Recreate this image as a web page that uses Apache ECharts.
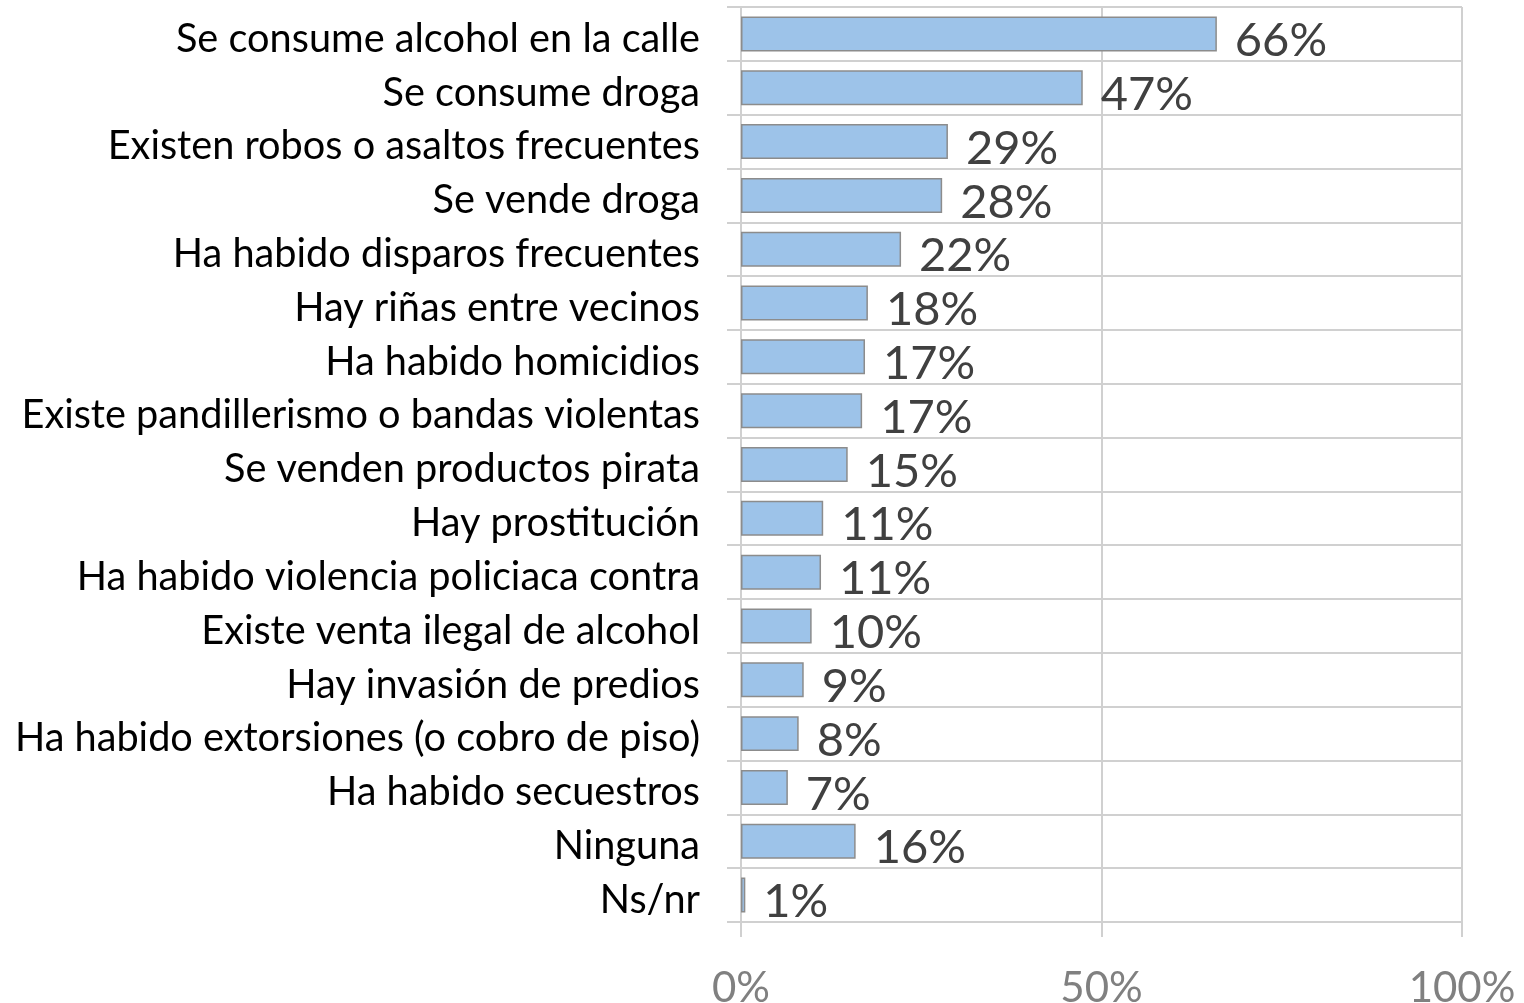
<!DOCTYPE html>
<html><head><meta charset="utf-8">
<script src="https://cdn.jsdelivr.net/npm/echarts@6/dist/echarts.min.js"></script>
<style>html,body{margin:0;padding:0;background:#fff}#c{width:1524px;height:1003px}</style>
</head><body><div id="c"></div>
<script>
const categories = [
  "Se consume alcohol en la calle",
  "Se consume droga",
  "Existen robos o asaltos frecuentes",
  "Se vende droga",
  "Ha habido disparos frecuentes",
  "Hay riñas entre vecinos",
  "Ha habido homicidios",
  "Existe pandillerismo o bandas violentas",
  "Se venden productos pirata",
  "Hay prostitución",
  "Ha habido violencia policiaca contra",
  "Existe venta ilegal de alcohol",
  "Hay invasión de predios",
  "Ha habido extorsiones (o cobro de piso)",
  "Ha habido secuestros",
  "Ninguna",
  "Ns/nr"
];
const values = [66, 47.4, 28.7, 27.9, 22.2, 17.6, 17.2, 16.8, 14.8, 11.4, 11.1, 9.8, 8.7, 8.0, 6.5, 15.9, 0.6];
const xTicks = [0, 50, 100];

const FONT = "Lato";
const chart = echarts.init(document.getElementById('c'), null, {renderer: 'canvas'});
chart.setOption({
  animation: false,
  grid: {left: 741, right: 62, top: 7, bottom: 81, containLabel: false, outerBoundsMode: 'none'},
  xAxis: {
    type: 'value', min: 0, max: 100, interval: 50,
    axisLine: {show: false},
    axisTick: {show: true, length: 15, lineStyle: {color: '#d0d0d0', width: 2}},
    splitLine: {show: true, lineStyle: {color: '#d0d0d0', width: 2}},
    axisLabel: {formatter: v => v + '%', color: '#808080', fontSize: 42, fontFamily: FONT, margin: 45}
  },
  yAxis: {
    type: 'category', data: categories, inverse: true,
    axisLine: {show: true, lineStyle: {color: '#d0d0d0', width: 2}},
    axisTick: {show: true, length: 14, lineStyle: {color: '#d0d0d0', width: 2}},
    splitLine: {show: true, lineStyle: {color: '#d0d0d0', width: 2}},
    axisLabel: {color: '#000', fontSize: 39.7, fontFamily: FONT, margin: 41,
      verticalAlign: 'top', lineHeight: 10}
  },
  series: [{
    type: 'bar', data: values, barCategoryGap: '35%',
    itemStyle: {color: '#9DC3E9', borderColor: '#8c8c8c', borderWidth: 1.5},
    label: {show: true, position: 'right', distance: 18, offset: [0, 7],
      formatter: p => Math.round(p.value) + '%', color: '#404040', fontSize: 47, fontFamily: FONT}
  }]
});
</script></body></html>
